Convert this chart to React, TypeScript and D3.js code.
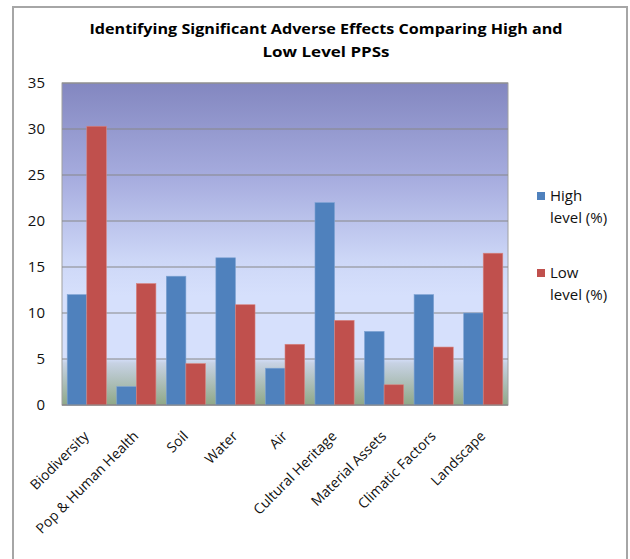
import React from "react";
import * as d3 from "d3";

const categories = [
  "Biodiversity",
  "Pop & Human Health",
  "Soil",
  "Water",
  "Air",
  "Cultural Heritage",
  "Material Assets",
  "Climatic Factors",
  "Landscape",
];
const highLevel = [12, 2, 14, 16, 4, 22, 8, 12, 10];
const lowLevel = [30.3, 13.2, 4.5, 10.9, 6.6, 9.2, 2.2, 6.3, 16.5];
const seriesNames = ["High level (%)", "Low level (%)"];
const seriesColors = ["#4F81BD", "#C0504D"];
const yTicks = [0, 5, 10, 15, 20, 25, 30, 35];
const titleLines = [
  "Identifying Significant Adverse Effects Comparing High and",
  "Low Level PPSs",
];

const W = 630;
const H = 559;
const plot = { left: 62, right: 508, top: 83, bottom: 405 };
const FONT = "'Open Sans', 'DejaVu Sans', sans-serif";

export default function App() {
  const x = d3
    .scaleBand<string>()
    .domain(categories)
    .range([plot.left, plot.right])
    .paddingInner(0.21)
    .paddingOuter(0.105);
  const x1 = d3
    .scaleBand<number>()
    .domain([0, 1])
    .range([0, x.bandwidth()]);
  const y = d3.scaleLinear().domain([0, 35]).range([plot.bottom, plot.top]);
  const step = (plot.right - plot.left) / categories.length;
  const series = [highLevel, lowLevel];

  return (
    <svg
      width={W}
      height={H}
      style={{ position: "absolute", left: 0, top: 0, background: "#fff" }}
      fontFamily={FONT}
    >
      <defs>
        <linearGradient id="bg" x1="0" y1="0" x2="0" y2="1">
          <stop offset="0" stopColor="#8387C0" />
          <stop offset="0.3" stopColor="#A7ADDF" />
          <stop offset="0.55" stopColor="#CDD7F7" />
          <stop offset="0.66" stopColor="#D6E0FC" />
          <stop offset="0.855" stopColor="#D6E0FC" />
          <stop offset="0.87" stopColor="#C7D2E4" />
          <stop offset="1" stopColor="#8FA887" />
        </linearGradient>
      </defs>
      {/* outer frame */}
      <rect x={13} y={7} width={614} height={570} fill="#fff" stroke="#A6A6A6" strokeWidth={2} />

      {/* title */}
      {titleLines.map((t, i) => (
        <text
          key={i}
          x={326}
          y={34 + i * 23}
          textAnchor="middle"
          fontSize={14}
          fontWeight="bold"
          fill="#000"
          textLength={i === 0 ? 473 : 127}
          lengthAdjust="spacingAndGlyphs"
        >
          {t}
        </text>
      ))}

      {/* plot background */}
      <rect
        x={plot.left}
        y={plot.top}
        width={plot.right - plot.left}
        height={plot.bottom - plot.top}
        fill="url(#bg)"
        stroke="#A0A0A0"
        strokeWidth={1}
      />

      {/* gridlines */}
      {yTicks.map((t) => (
        <line
          key={t}
          x1={plot.left}
          x2={plot.right}
          y1={y(t)}
          y2={y(t)}
          stroke="#878787"
          strokeWidth={1.2}
        />
      ))}

      {/* y labels */}
      {yTicks.map((t) => (
        <text
          key={"l" + t}
          x={45}
          y={y(t)}
          dy="0.36em"
          textAnchor="end"
          fontSize={15}
          fill="#111"
        >
          {t}
        </text>
      ))}

      {/* bars */}
      {categories.map((c, ci) =>
        series.map((vals, si) => (
          <rect
            key={c + si}
            x={(x(c) as number) + (x1(si) as number)}
            y={y(vals[ci])}
            width={x1.bandwidth()}
            height={y(0) - y(vals[ci])}
            fill={seriesColors[si]}
            stroke={si === 0 ? "#7FA3D3" : "#D88682"}
            strokeWidth={0.6}
          />
        ))
      )}

      {/* axis line */}
      <line x1={plot.left} x2={plot.right} y1={plot.bottom} y2={plot.bottom} stroke="#888" strokeWidth={1.2} />

      {/* x labels */}
      {categories.map((c, ci) => {
        const cx = plot.left + step * (ci + 0.5) + 3;
        const cy = 437;
        return (
          <text
            key={"x" + c}
            x={cx}
            y={cy}
            textAnchor="end"
            fontSize={14}
            fill="#111"
            transform={`rotate(-45, ${cx}, ${cy})`}
          >
            {c}
          </text>
        );
      })}

      {/* legend */}
      {seriesNames.map((name, i) => {
        const words = name.split(" ");
        const top = 192 + i * 77;
        return (
          <g key={name}>
            <rect x={537} y={top} width={8} height={8} fill={seriesColors[i]} />
            <text x={550} y={top + 9} fontSize={15} fill="#111">
              {words[0]}
            </text>
            <text x={550} y={top + 31} fontSize={15} fill="#111">
              {words.slice(1).join(" ")}
            </text>
          </g>
        );
      })}
    </svg>
  );
}
